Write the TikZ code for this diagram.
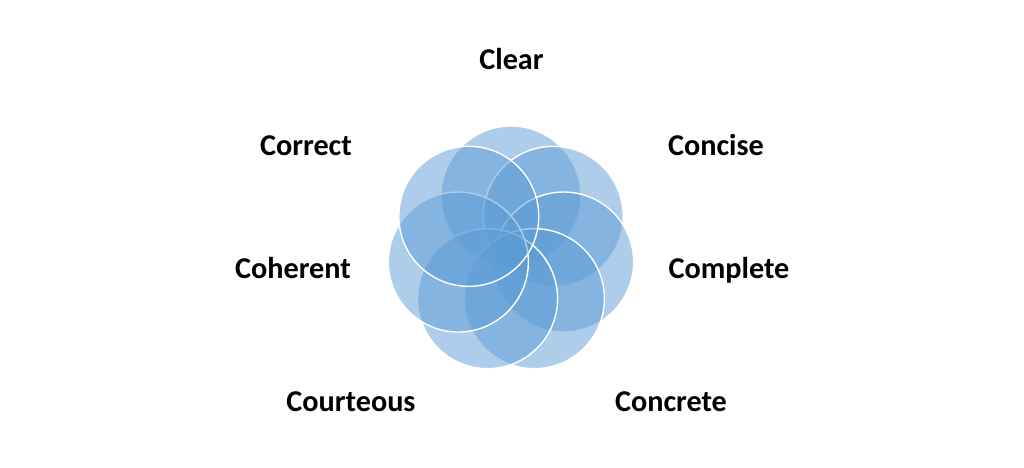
\documentclass[tikz,border=0pt]{standalone}
\usepackage{fontspec}
\setmainfont{Carlito}
\usepackage{tikz}
\definecolor{petalblue}{RGB}{91,155,213}

\begin{document}
\begin{tikzpicture}[scale=1.0,
    petal/.style={fill=petalblue, fill opacity=0.5, draw=white, line width=1pt},
    lbl/.style={font=\bfseries\fontsize{21.5}{26}\selectfont, anchor=base, inner sep=0pt}]

        \useasboundingbox (-12.775, -5.45) rectangle (12.825, 6.25);

        % Circles of the rosette, drawn clockwise from the top
        \foreach \a in {90, 38.57, -12.86, -64.29, -115.71, -167.14, 141.43}
            \filldraw[petal] (\a:1.35) circle (1.75);

        % Labels round the rosette
        \node[lbl] (clear) at (0.0125, 4.52) {Clear};
        \node[lbl] (concise) at (5.125, 2.35) {Concise};
        \node[lbl] (complete) at (5.45, -0.72) {Complete};
        \node[lbl] (concrete) at (4.0, -4.05) {Concrete};
        \node[lbl] (courteous) at (-4.0, -4.05) {Courteous};
        \node[lbl] (coherent) at (-5.45, -0.72) {Coherent};
        \node[lbl] (correct) at (-5.125, 2.35) {Correct};
    \end{tikzpicture}
\end{document}
